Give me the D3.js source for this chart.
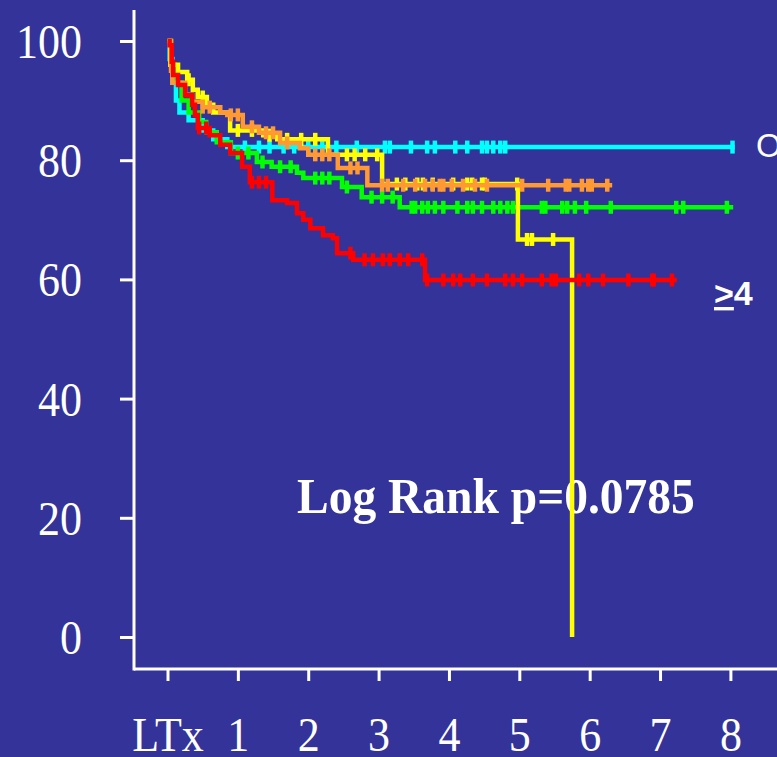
<!DOCTYPE html>
<html>
<head>
<meta charset="utf-8">
<script src="https://cdn.jsdelivr.net/npm/d3@7"></script>
<style>
  html, body { margin: 0; padding: 0; background: #333399; }
  svg { display: block; }
</style>
</head>
<body>
<svg id="chart" width="777" height="757"></svg>
<script>
// Survival (%) after liver transplantation, by group; time in years.
// Each step array: [time at which survival changes, survival from then on].
const xTicks = [0, 1, 2, 3, 4, 5, 6, 7, 8];
const xTickLabels = ["LTx", "1", "2", "3", "4", "5", "6", "7", "8"];
const yTicks = [0, 20, 40, 60, 80, 100];

const cyanSteps = [[0, 100], [0.03, 97], [0.07, 93], [0.12, 90], [0.17, 88], [0.3, 86.7],
  [0.5, 85], [0.65, 83.5], [0.85, 82.2]];
const cyanCensor = [0.9, 1.1, 1.3, 1.45, 1.65, 1.8, 2.0, 2.2, 2.4, 2.69, 3.09, 3.16, 3.46,
  3.69, 3.8, 4.09, 4.26, 4.47, 4.54, 4.63, 4.73, 4.8, 8.03];
const cyanEnd = 8.06;

const greenSteps = [[0, 100], [0.05, 96], [0.1, 93], [0.2, 90], [0.3, 88], [0.45, 86.4],
  [0.55, 84.7], [0.7, 83], [0.9, 81.2], [1.27, 79.7], [1.48, 78.9], [1.84, 77.9], [1.93, 77],
  [2.48, 75.5], [2.76, 73.8], [3.3, 72.1]];
const greenCensor = [1.0, 1.15, 1.35, 1.6, 1.75, 2.1, 2.2, 2.3, 2.55, 2.9, 3.05, 3.2, 3.47,
  3.52, 3.62, 3.7, 3.8, 3.92, 4.12, 4.26, 4.34, 4.47, 4.63, 4.73, 4.83, 4.91, 5.32, 5.37,
  5.61, 5.68, 5.79, 5.95, 6.3, 7.23, 7.33, 7.95];
const greenEnd = 8.04;

const yellowSteps = [[0, 100], [0.04, 96], [0.15, 94.8], [0.28, 93.5], [0.36, 91.8],
  [0.43, 90.6], [0.56, 89.3], [0.65, 88], [0.89, 85], [1.36, 84.2], [1.56, 83.5],
  [2.28, 80.9], [3.05, 76.0], [4.98, 66.7], [5.75, 0]];
const yellowCensor = [0.3, 0.5, 1.0, 1.2, 1.45, 1.7, 1.9, 2.1, 2.55, 2.66, 2.81, 2.98, 3.26,
  3.38, 3.55, 3.63, 3.77, 4.06, 4.26, 4.33, 4.47, 4.51, 4.97, 5.11, 5.18, 5.48];
const yellowEnd = 5.75;

const orangeSteps = [[0, 100], [0.05, 95], [0.07, 93], [0.25, 91], [0.35, 89.8], [0.5, 88.9],
  [0.75, 88], [0.85, 87.6], [1.07, 85.6], [1.3, 84.6], [1.6, 82.9], [1.88, 82], [2.0, 80.9],
  [2.42, 78.7], [2.84, 75.8]];
const orangeCensor = [0.5, 0.6, 0.9, 1.0, 1.2, 1.4, 1.5, 1.7, 2.1, 2.2, 2.3, 2.6, 2.7, 3.05,
  3.13, 3.35, 3.52, 3.66, 3.77, 3.87, 3.92, 4.04, 4.2, 4.37, 4.54, 5.04, 5.41, 5.66, 5.71,
  5.89, 5.98, 6.03, 6.25];
const orangeEnd = 6.32;

const redSteps = [[0, 100], [0.03, 99.3], [0.06, 96.5], [0.08, 94.3], [0.15, 92.6],
  [0.25, 90.9], [0.35, 89.3], [0.39, 87.6], [0.43, 85.4], [0.6, 84.2], [0.75, 82.6],
  [0.89, 81.2], [1.06, 78.9], [1.17, 76.3], [1.49, 73.3], [1.7, 72.8], [1.84, 71.1],
  [1.93, 70], [2.03, 68.6], [2.21, 67.4], [2.35, 66.9], [2.41, 64.4], [2.64, 63.3],
  [3.66, 59.9]];
const redCensor = [0.45, 0.55, 1.2, 1.3, 1.4, 2.6, 2.8, 2.92, 3.06, 3.16, 3.3, 3.42, 3.62,
  3.69, 3.92, 4.06, 4.16, 4.34, 4.54, 4.8, 4.91, 5.04, 5.32, 5.46, 5.52, 5.85, 5.98, 6.19,
  6.55, 6.89, 6.91, 7.17];
const redEnd = 7.24;

const groups = [
  { steps: cyanSteps, censor: cyanCensor, end: cyanEnd, color: "#00ffff" },
  { steps: greenSteps, censor: greenCensor, end: greenEnd, color: "#00ff00" },
  { steps: yellowSteps, censor: yellowCensor, end: yellowEnd, color: "#ffff00" },
  { steps: orangeSteps, censor: orangeCensor, end: orangeEnd, color: "#ff9933" },
  { steps: redSteps, censor: redCensor, end: redEnd, color: "#ff0000" }
];

const svg = d3.select("#chart");
svg.append("rect").attr("width", 777).attr("height", 757).attr("fill", "#333399");

const x = d3.scaleLinear().domain([0, 8]).range([167.5, 730.4]);
const y = d3.scaleLinear().domain([0, 100]).range([637, 41]);

const axisX0 = 134, axisY0 = 669;
const serif = "'Liberation Serif', 'Times New Roman', serif";
const sans = "'Liberation Sans', Arial, sans-serif";

// Y axis
const gy = svg.append("g").attr("transform", `translate(${axisX0},0)`)
  .call(d3.axisLeft(y).tickValues(yTicks).tickSize(14).tickSizeOuter(0).tickPadding(38));
gy.select(".domain").remove();
gy.selectAll(".tick line").attr("stroke", "#fff").attr("stroke-width", 3);
gy.selectAll(".tick text").attr("fill", "#fff").attr("font-family", serif)
  .attr("font-size", 44).attr("dy", "0.34em").attr("transform", "scale(1,1.1)");
svg.append("line").attr("x1", axisX0).attr("x2", axisX0).attr("y1", 10).attr("y2", axisY0 + 1.5)
  .attr("stroke", "#fff").attr("stroke-width", 3);

// X axis
const gx = svg.append("g").attr("transform", `translate(0,${axisY0})`)
  .call(d3.axisBottom(x).tickValues(xTicks).tickSize(12).tickSizeOuter(0)
    .tickFormat((d, i) => xTickLabels[i]));
gx.select(".domain").remove();
gx.selectAll(".tick line").attr("stroke", "#fff").attr("stroke-width", 3);
gx.selectAll(".tick text").attr("fill", "#fff").attr("font-family", serif)
  .attr("font-size", 44).attr("y", 74.5).attr("dy", 0).attr("transform", "scale(1,1.1)");
svg.append("line").attr("x1", axisX0).attr("x2", 777).attr("y1", axisY0).attr("y2", axisY0)
  .attr("stroke", "#fff").attr("stroke-width", 3);

// Annotation
svg.append("text").attr("transform", "translate(297,513) scale(1,1.08)")
  .attr("font-family", serif).attr("font-weight", "bold").attr("font-size", 47.5)
  .attr("fill", "#fff").text("Log Rank p=0.0785");

// Group labels
svg.append("text").attr("x", 756).attr("y", 157).attr("font-family", sans)
  .attr("font-size", 33).attr("fill", "#fff").text("O");
const ge4 = svg.append("text").attr("x", 714).attr("y", 305).attr("font-family", sans)
  .attr("font-weight", "bold").attr("font-size", 34).attr("fill", "#fff");
ge4.append("tspan").attr("text-decoration", "underline").text(">");
ge4.append("tspan").text("4");

// Survival curves
const stepLine = d3.line().x(d => x(d[0])).y(d => y(d[1])).curve(d3.curveStepAfter);
const survivalAt = (steps, t) => {
  let s = steps[0][1];
  for (const [tt, v] of steps) if (tt <= t) s = v;
  return s;
};

groups.forEach(g => {
  const pts = g.steps.slice();
  const last = pts[pts.length - 1];
  if (last[0] < g.end) pts.push([g.end, last[1]]);
  const layer = svg.append("g");
  layer.append("path").attr("d", stepLine(pts)).attr("fill", "none")
    .attr("stroke", g.color).attr("stroke-width", 4.5).attr("stroke-linejoin", "miter");
  layer.selectAll("line").data(g.censor).join("line")
    .attr("x1", d => x(d)).attr("x2", d => x(d))
    .attr("y1", d => y(survivalAt(g.steps, d)) - 6.5)
    .attr("y2", d => y(survivalAt(g.steps, d)) + 6.5)
    .attr("stroke", g.color).attr("stroke-width", 4.5);
});
</script>
</body>
</html>
